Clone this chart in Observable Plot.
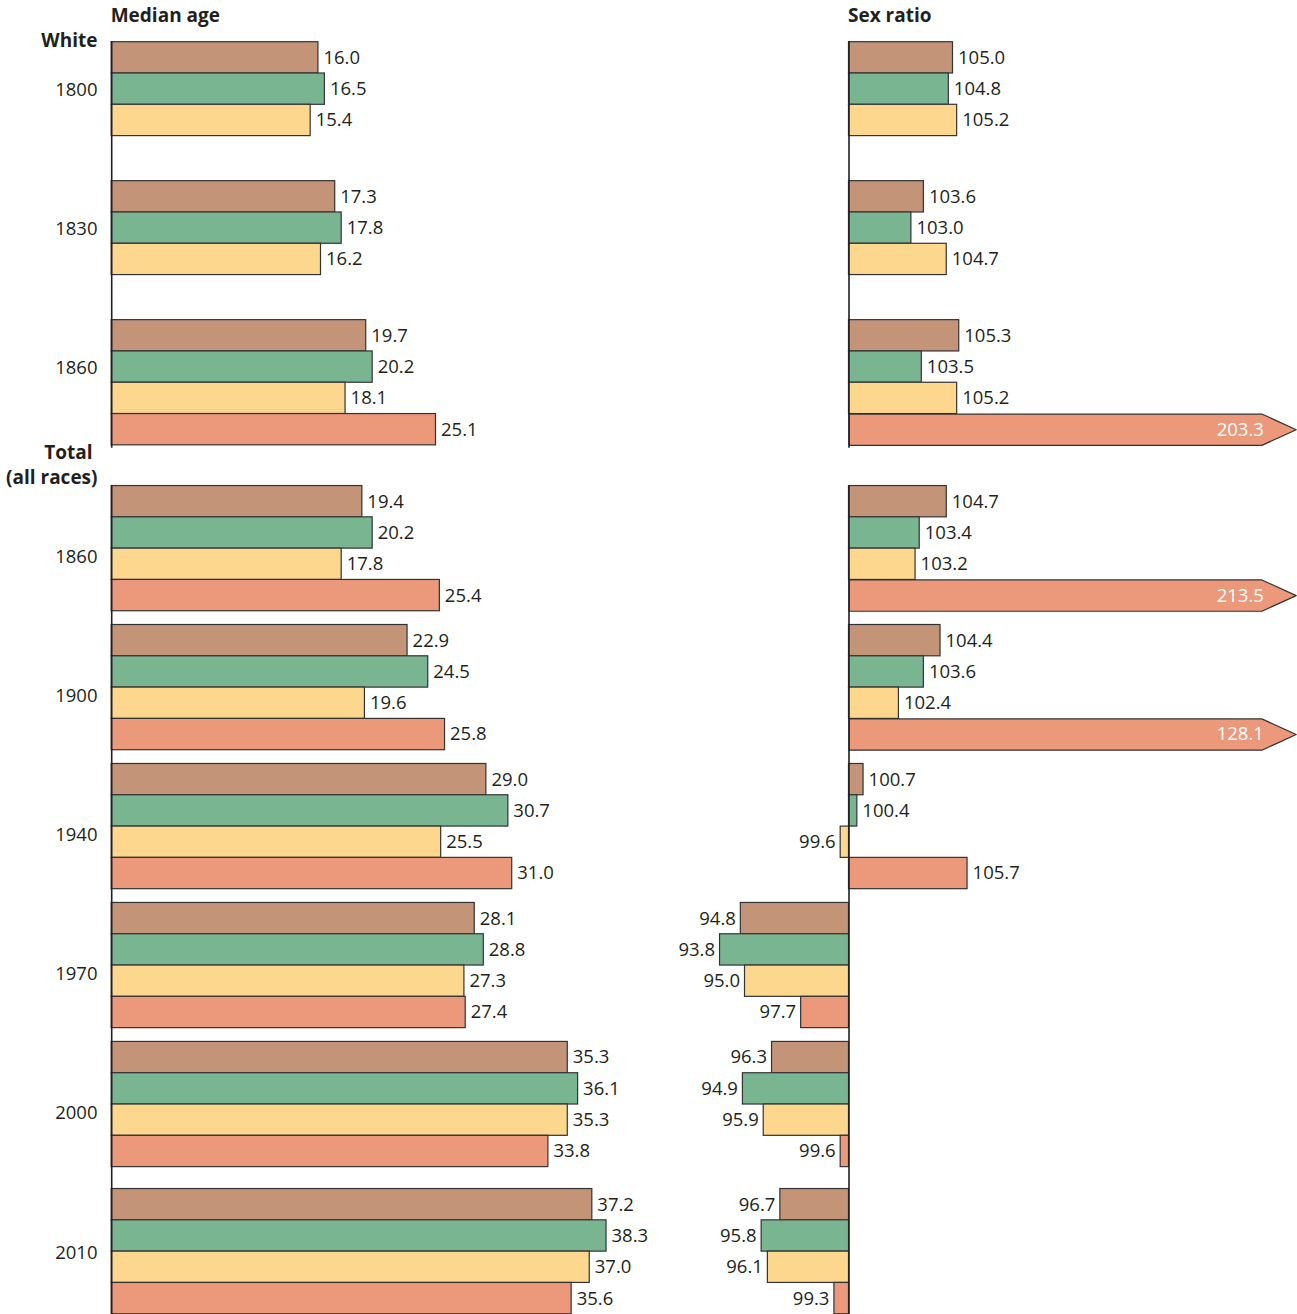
<!DOCTYPE html>
<html>
<head>
<meta charset="utf-8">
<script src="https://cdn.jsdelivr.net/npm/d3@7"></script>
<script src="https://cdn.jsdelivr.net/npm/@observablehq/plot@0.6"></script>
<style>
  body { margin: 0; background: #fff; }
  #chart { position: relative; width: 1297px; height: 1314px; overflow: hidden; }
  #chart svg { position: absolute; left: 0; top: 0; }
</style>
</head>
<body>
<div id="chart"></div>
<script>
// ---------- DATA ----------
const years    = ["1800", "1830", "1860", "1860", "1900", "1940", "1970", "2000", "2010"];
const sections = ["White", "White", "White", "Total", "Total", "Total", "Total", "Total", "Total"];
const sectionLabels = { White: ["White"], Total: ["Total", "(all races)"] };
const seriesNames = ["Northeast", "Midwest", "South", "West"];

const medianAge = {
  Northeast: [16.0, 17.3, 19.7, 19.4, 22.9, 29.0, 28.1, 35.3, 37.2],
  Midwest:   [16.5, 17.8, 20.2, 20.2, 24.5, 30.7, 28.8, 36.1, 38.3],
  South:     [15.4, 16.2, 18.1, 17.8, 19.6, 25.5, 27.3, 35.3, 37.0],
  West:      [null, null, 25.1, 25.4, 25.8, 31.0, 27.4, 33.8, 35.6]
};
const sexRatio = {
  Northeast: [105.0, 103.6, 105.3, 104.7, 104.4, 100.7, 94.8, 96.3, 96.7],
  Midwest:   [104.8, 103.0, 103.5, 103.4, 103.6, 100.4, 93.8, 94.9, 95.8],
  South:     [105.2, 104.7, 105.2, 103.2, 102.4,  99.6, 95.0, 95.9, 96.1],
  West:      [null,  null,  203.3, 213.5, 128.1, 105.7, 97.7, 99.6, 99.3]
};
const titles = ["Median age", "Sex ratio"];

// ---------- STYLE / LAYOUT ----------
const colors = ["#C49479", "#7AB592", "#FDD78D", "#EB987B"];
const ink = "#231f20";
const groupGap = 0.44, sectionGap = 1.30, lastGap = 0.70; // in bar-slot units
const slotPx = 31.3, topPx = 41.7;
const sexClip = 119.85, sexTip = 121.5;

// group top positions (slot units)
const tops = [];
years.forEach((y, i) => {
  if (i === 0) { tops.push(0); return; }
  const gap = sections[i] !== sections[i - 1] ? sectionGap : (i === years.length - 1 ? lastGap : groupGap);
  tops.push(tops[i - 1] + 4 + gap);
});
const yMax = tops[tops.length - 1] + 4;
const yLabelOff = years.map((y, i) => sections[i] === "White" ? 1.52 : (i === years.length - 1 ? 2.05 : 2.28));

function rows(src) {
  const out = [];
  years.forEach((yr, i) => {
    seriesNames.forEach((s, j) => {
      const v = src[s][i];
      if (v != null) out.push({ year: yr, section: sections[i], series: s, value: v, top: tops[i] + j });
    });
  });
  return out;
}
const ageRows = rows(medianAge);
const sexRows = rows(sexRatio);
const groupRows = years.map((yr, i) => ({ year: yr, y: tops[i] + yLabelOff[i] }));

const secNames = [...new Set(sections)];
const secExtents = secNames.map(s => {
  const idx = sections.map((x, i) => x === s ? i : -1).filter(i => i >= 0);
  return { section: s, y1: tops[idx[0]] - 0.02, y2: tops[idx[idx.length - 1]] + 4 + 0.09 };
});
const secLabelRows = [];
secNames.forEach(s => {
  const first = tops[sections.indexOf(s)];
  const lines = sectionLabels[s];
  lines.forEach((t, k) => {
    const fromBottom = lines.length - 1 - k;
    secLabelRows.push({ text: t, y: first - 0.04 - (lines.length > 1 ? 0.21 : 0) - fromBottom * 0.82, shifted: lines.length > 1 && k === 0 });
  });
});

const yScale = { domain: [0, yMax], range: [topPx, topPx + yMax * slotPx] };
const colorScale = { domain: seriesNames, range: colors };
const baseStyle = { fontFamily: "'Open Sans', 'Noto Sans', sans-serif", fontSize: "18.5px", color: ink, background: "transparent" };
const headY = -0.853;

// ---------- LEFT PANEL: MEDIAN AGE ----------
const left = Plot.plot({
  width: 1297, height: 1314,
  marginTop: 0, marginBottom: 0, marginRight: 0, marginLeft: 111,
  style: baseStyle,
  x: { domain: [0, 40], range: [111.2, 111.2 + 40 * 12.92], axis: null },
  y: { ...yScale, axis: null },
  color: colorScale,
  marks: [
    Plot.rectX(ageRows, { x1: 0, x2: "value", y1: "top", y2: d => d.top + 1, fill: "series", stroke: "#333", strokeWidth: 1.2 }),
    Plot.ruleX(secExtents, { x: 0, y1: "y1", y2: "y2", stroke: ink, strokeWidth: 1.6 }),
    Plot.text(ageRows, { x: "value", y: d => d.top + 0.5, text: d => d.value.toFixed(1), textAnchor: "start", dx: 5, fill: ink, fontSize: 18.5 }),
    Plot.text(groupRows, { y: "y", text: "year", frameAnchor: "left", textAnchor: "end", dx: -14, fill: ink, fontSize: 18.5 }),
    Plot.text(secLabelRows.filter(d => !d.shifted), { y: "y", text: "text", frameAnchor: "left", textAnchor: "end", dx: -14, fill: ink, fontSize: 19, fontWeight: "bold" }),
    Plot.text(secLabelRows.filter(d => d.shifted), { y: "y", text: "text", frameAnchor: "left", textAnchor: "end", dx: -19, fill: ink, fontSize: 19, fontWeight: "bold" }),
    Plot.text([titles[0]], { x: 0, y: headY, text: d => d, textAnchor: "start", dx: -1, fill: ink, fontSize: 19, fontWeight: "bold" })
  ]
});

// ---------- RIGHT PANEL: SEX RATIO ----------
const sexBars = sexRows.filter(d => d.value <= sexClip);
const sexArrows = sexRows.filter(d => d.value > sexClip);
const arrowPts = sexArrows.flatMap((d, k) => [
  { id: k, x: 100, y: d.top },
  { id: k, x: sexClip, y: d.top },
  { id: k, x: sexTip, y: d.top + 0.5 },
  { id: k, x: sexClip, y: d.top + 1 },
  { id: k, x: 100, y: d.top + 1 }
]);

const right = Plot.plot({
  width: 1297, height: 1314,
  marginTop: 0, marginBottom: 0, marginRight: 0, marginLeft: 0,
  style: baseStyle,
  x: { domain: [100, 120], range: [848.5, 848.5 + 20 * 20.8], axis: null },
  y: { ...yScale, axis: null },
  color: colorScale,
  marks: [
    Plot.rectX(sexBars, { x1: 100, x2: "value", y1: "top", y2: d => d.top + 1, fill: "series", stroke: "#333", strokeWidth: 1.2 }),
    Plot.line(arrowPts, { x: "x", y: "y", z: "id", fill: colors[3], stroke: "#333", strokeWidth: 1.2, curve: "linear-closed" }),
    Plot.ruleX(secExtents, { x: 100, y1: "y1", y2: "y2", stroke: ink, strokeWidth: 1.6 }),
    Plot.text(sexBars.filter(d => d.value >= 100), { x: "value", y: d => d.top + 0.5, text: d => d.value.toFixed(1), textAnchor: "start", dx: 5, fill: ink, fontSize: 18.5 }),
    Plot.text(sexBars.filter(d => d.value < 100), { x: "value", y: d => d.top + 0.5, text: d => d.value.toFixed(1), textAnchor: "end", dx: -5, fill: ink, fontSize: 18.5 }),
    Plot.text(sexArrows, { x: sexClip, y: d => d.top + 0.5, text: d => d.value.toFixed(1), textAnchor: "end", dx: 2, fill: "#fff", fontSize: 18.5 }),
    Plot.text([titles[1]], { x: 100, y: headY, text: d => d, textAnchor: "start", dx: -1, fill: ink, fontSize: 19, fontWeight: "bold" })
  ]
});

const chart = document.getElementById("chart");
chart.appendChild(left);
chart.appendChild(right);
</script>
</body>
</html>
